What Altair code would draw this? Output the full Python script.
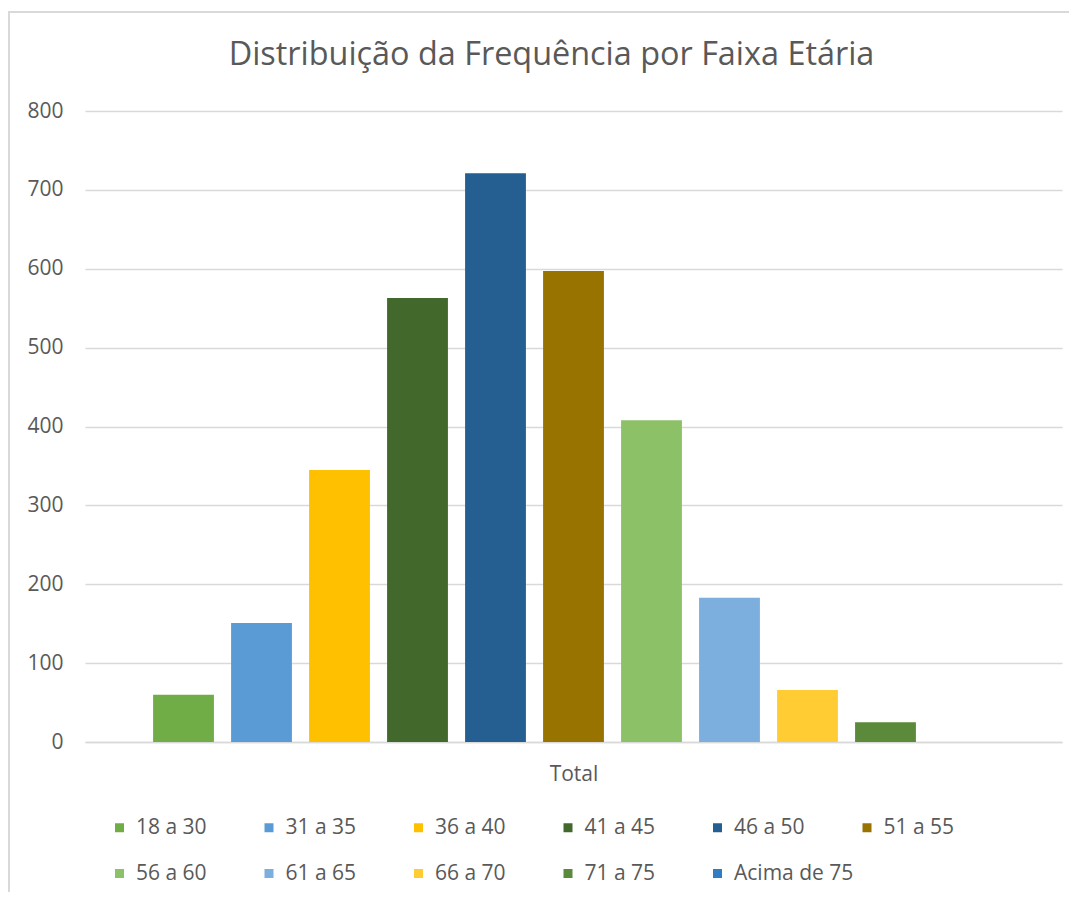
import altair as alt
import pandas as pd

faixas = ["18 a 30", "31 a 35", "36 a 40", "41 a 45", "46 a 50", "51 a 55",
          "56 a 60", "61 a 65", "66 a 70", "71 a 75", "Acima de 75"]
valores = [60, 151, 345, 563, 721, 597, 408, 183, 66, 25, 0]
cores = ["#70AD47", "#5B9BD5", "#FFC000", "#43682B", "#255E91", "#997300",
         "#8CC168", "#7CAFDD", "#FFCD33", "#5B8B3A", "#327DC2"]
y_ticks = [0, 100, 200, 300, 400, 500, 600, 700, 800]
titulo = "Distribuição da Frequência por Faixa Etária"
categoria = "Total"

df = pd.DataFrame({"Faixa": faixas, "Valor": valores})

FONT = "Open Sans"
GREY = "#595959"

bars = alt.Chart(df).mark_bar().encode(
    x=alt.X("Faixa:N", sort=faixas,
            scale=alt.Scale(paddingInner=0.22, paddingOuter=0.873),
            axis=alt.Axis(title=categoria, labels=False, ticks=False,
                          domainColor="#d9d9d9", domainWidth=1.5,
                          titleFont=FONT, titleFontSize=21, titleFontWeight="normal",
                          titleColor=GREY, titlePadding=21)),
    y=alt.Y("Valor:Q", scale=alt.Scale(domain=[0, 800]),
            axis=alt.Axis(values=y_ticks, title=None, domain=False, ticks=False,
                          gridColor="#d9d9d9", gridWidth=1.5,
                          labelPadding=22, labelFont=FONT, labelFontSize=21,
                          labelColor=GREY)),
    color=alt.Color("Faixa:N", sort=faixas,
                    scale=alt.Scale(domain=faixas, range=cores),
                    legend=alt.Legend(orient="none", legendX=24, legendY=706,
                                      direction="horizontal",
                                      columns=6, title=None, symbolType="square",
                                      symbolSize=81, symbolStrokeWidth=0,
                                      gridAlign="all", columnPadding=2.5,
                                      rowPadding=24, labelOffset=6,
                                      labelFont=FONT, labelFontSize=21,
                                      labelColor=GREY, labelLimit=300,
                                      padding=0))
)

frame = alt.Chart(pd.DataFrame({"f": [0]})).mark_rect(
    fill=None, stroke="#d9d9d9", strokeWidth=2
).encode(
    x=alt.value(-76), x2=alt.value(1200), y=alt.value(-99), y2=alt.value(1200)
)

chart = alt.layer(frame, bars).properties(
    width=977, height=631,
    title=alt.TitleParams(titulo, font=FONT, fontSize=32.4, fontWeight="normal",
                          color=GREY, anchor="middle", baseline="alphabetic",
                          offset=-86, dx=-22),
    autosize=alt.AutoSizeParams(type="none"),
    padding={"left": 77, "top": 103, "right": 7, "bottom": 150},
).configure_view(stroke=None)

chart.save("out.html", embed_options={"renderer": "svg", "actions": False})
